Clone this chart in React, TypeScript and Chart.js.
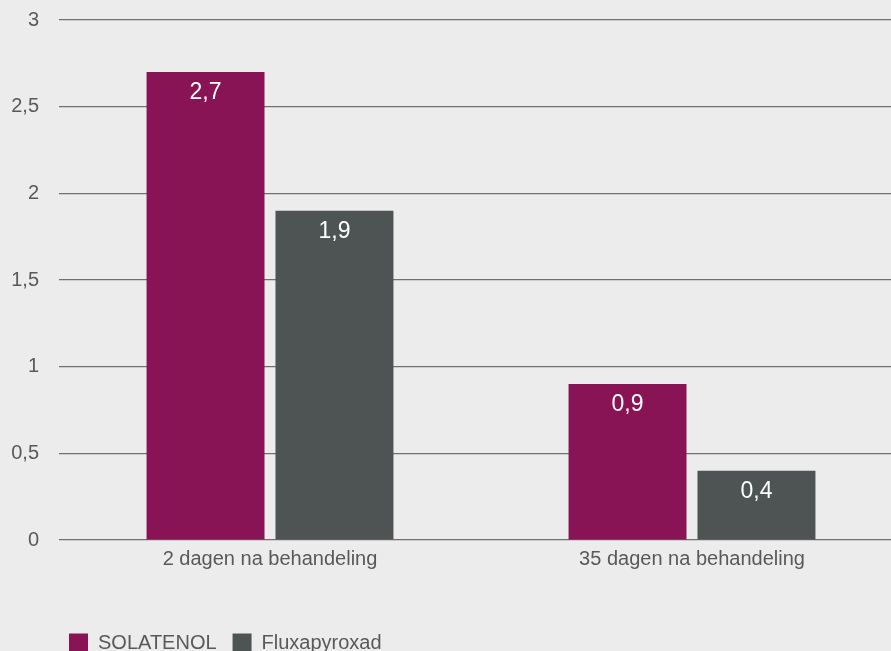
import React, { useEffect, useRef } from "react";
import { Chart, registerables } from "chart.js";

Chart.register(...registerables);

const categories = ["2 dagen na behandeling", "35 dagen na behandeling"];
const seriesNames = ["SOLATENOL", "Fluxapyroxad"];
const solatenolValues = [2.7, 0.9];
const fluxapyroxadValues = [1.9, 0.4];
const yTicks = [0, 0.5, 1, 1.5, 2, 2.5, 3];

const COLORS = ["#881456", "#4e5453"];
const FONT = "'Liberation Sans', Arial, Helvetica, sans-serif";

const fmt = (v: number) => String(v).replace(".", ",");

const valueLabels = {
  id: "valueLabels",
  afterDatasetsDraw(chart: any) {
    const ctx = chart.ctx;
    ctx.save();
    ctx.fillStyle = "#ffffff";
    ctx.font = `23px ${FONT}`;
    ctx.textAlign = "center";
    ctx.textBaseline = "middle";
    chart.data.datasets.forEach((ds: any, di: number) => {
      const meta = chart.getDatasetMeta(di);
      meta.data.forEach((bar: any, i: number) => {
        ctx.fillText(fmt(ds.data[i]), bar.x, bar.y + 21);
      });
    });
    ctx.restore();
  },
};

const shiftLegend = {
  id: "shiftLegend",
  afterLayout(chart: any) {
    if (chart.legend) {
      chart.legend.left += 53;
      chart.legend.right += 53;
    }
  },
};

export default function App() {
  const ref = useRef<HTMLCanvasElement>(null);
  useEffect(() => {
    document.body.style.overflow = "hidden";
    const chart = new Chart(ref.current!, {
      type: "bar",
      data: {
        labels: categories,
        datasets: [
          { label: seriesNames[0], data: solatenolValues, backgroundColor: COLORS[0] },
          { label: seriesNames[1], data: fluxapyroxadValues, backgroundColor: COLORS[1] },
        ],
      },
      options: {
        responsive: false,
        animation: false,
        layout: { padding: { left: 0, top: 20, right: 0, bottom: 0 } },
        datasets: { bar: { categoryPercentage: 0.611, barPercentage: 0.915 } } as any,
        scales: {
          x: {
            grid: { display: false, drawTicks: false },
            border: { display: false },
            ticks: { color: "#595959", font: { family: FONT, size: 20 }, padding: 7 },
            afterFit: (s: any) => {
              s.height = s.height + 39;
            },
          },
          y: {
            min: 0,
            max: 3,
            afterBuildTicks: (s: any) => {
              s.ticks = yTicks.map((v) => ({ value: v }));
            },
            afterFit: (s: any) => {
              s.width = 59;
              s.paddingTop = 0;
              s.paddingBottom = 0;
            },
            grid: { color: "#6f6f6f", lineWidth: 1.2, drawTicks: false },
            border: { display: false },
            ticks: {
              color: "#595959",
              font: { family: FONT, size: 20 },
              padding: 20,
              callback: (v: any) => fmt(Number(v)),
            },
          },
        },
        plugins: {
          legend: {
            position: "bottom",
            align: "start",
            labels: {
              boxWidth: 19,
              boxHeight: 19,
              padding: 16,
              color: "#595959",
              font: { family: FONT, size: 20 },
            },
          },
          tooltip: { enabled: false },
        },
      },
      plugins: [valueLabels, shiftLegend],
    });
    return () => chart.destroy();
  }, []);
  return (
    <div
      style={{
        position: "fixed",
        left: 0,
        top: 0,
        width: 903,
        height: 663,
        background: "#ececec",
      }}
    >
      <canvas ref={ref} width={903} height={663} style={{ width: 903, height: 663, display: "block" }} />
    </div>
  );
}
